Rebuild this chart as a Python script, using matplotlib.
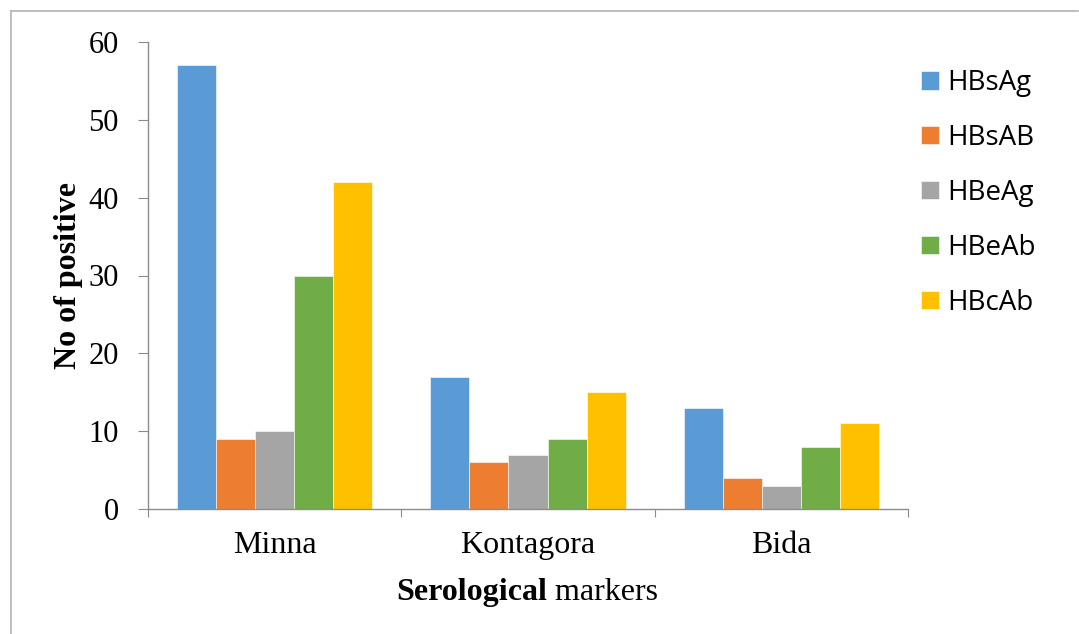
import numpy as np
import matplotlib.pyplot as plt
from matplotlib.lines import Line2D

## Data
sites = ['Minna', 'Kontagora', 'Bida']
markers = ['HBsAg', 'HBsAB', 'HBeAg', 'HBeAb', 'HBcAb']
hbsag = [57, 17, 13]
hbsab = [9, 6, 4]
hbeag = [10, 7, 3]
hbeab = [30, 9, 8]
hbcab = [42, 15, 11]
series = [hbsag, hbsab, hbeag, hbeab, hbcab]
colours = ['#5B9BD5', '#ED7D31', '#A5A5A5', '#70AD47', '#FFC000']
y_ticks = [0, 10, 20, 30, 40, 50, 60]

serif = 'Liberation Serif'
axis_grey = '#8c8c8c'
fs = 23

fig = plt.figure(figsize=(10.79, 6.34), dpi=100)
W, H = 1079, 634
ax = fig.add_axes([148 / W, 1 - 509 / H, 760 / W, 467 / H])

# outer chart border (cropped on right and bottom like the reference)
fig.add_artist(Line2D([11 / W, 11 / W], [1 - 11 / H, 0], transform=fig.transFigure,
                      color='#b4b4b4', lw=1.2))
fig.add_artist(Line2D([11 / W, 1078 / W], [1 - 11 / H, 1 - 11 / H], transform=fig.transFigure,
                      color='#b4b4b4', lw=1.2))

## Bars
x = np.arange(len(sites))
bar_w = 0.154
for i, (vals, name, col) in enumerate(zip(series, markers, colours)):
    ax.bar(x + (i - 2) * bar_w, vals, width=bar_w, color=col, label=name,
           edgecolor='white', linewidth=0.4)

## Axes styling
ax.set_xlim(-0.5, 2.5)
ax.set_ylim(0, 60)
for s in ['top', 'right']:
    ax.spines[s].set_visible(False)
for s in ['left', 'bottom']:
    ax.spines[s].set_color(axis_grey)
    ax.spines[s].set_linewidth(1.0)

ax.set_yticks(y_ticks)
ax.set_yticklabels([str(v) for v in y_ticks], fontsize=22, family=serif)
ax.tick_params(axis='y', length=7, color=axis_grey, pad=14)

ax.set_xticks([-0.5, 0.5, 1.5, 2.5])
ax.set_xticklabels([])
ax.tick_params(axis='x', which='major', length=6, color=axis_grey)
ax.set_xticks(x, minor=True)
ax.set_xticklabels(sites, minor=True, fontsize=fs, family=serif)
ax.tick_params(axis='x', which='minor', length=0, pad=16)

ax.set_ylabel('No of positive', fontsize=fs, family=serif, fontweight='bold')
ax.yaxis.set_label_coords(-0.085, 0.5)

# x label with mixed weight
t1 = fig.text(547 / W, 1 - 600 / H, 'Serological', fontsize=fs, family=serif,
              fontweight='bold', ha='right', va='baseline')
ax.annotate(' markers', xy=(1, 0), xycoords=t1, fontsize=fs, family=serif,
            ha='left', va='bottom')

ax.legend(loc='upper left', bbox_to_anchor=(921 / W, 1 - 69 / H),
          bbox_transform=fig.transFigure, frameon=False, borderpad=0,
          borderaxespad=0, handlelength=0.65, handleheight=0.65,
          handletextpad=0.3, labelspacing=0.97,
          prop={'family': 'Open Sans', 'size': 20})

fig.savefig('out.png', dpi=100)
